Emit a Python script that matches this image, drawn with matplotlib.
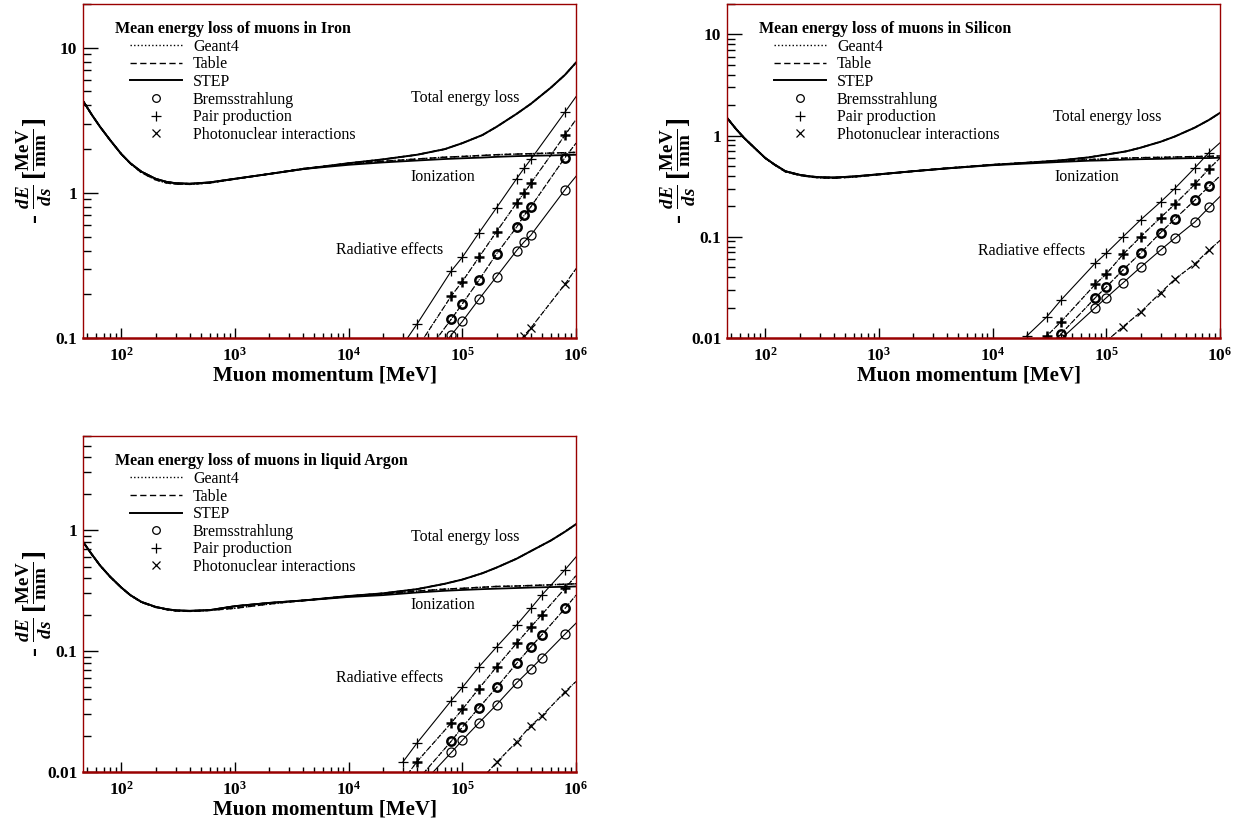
import matplotlib
matplotlib.use('Agg')
import matplotlib.pyplot as plt
from matplotlib.lines import Line2D
from matplotlib.ticker import LogLocator, NullFormatter

plt.rcParams['font.family'] = 'Liberation Serif'
plt.rcParams['mathtext.fontset'] = 'custom'
plt.rcParams['mathtext.rm'] = 'Liberation Serif:bold'
plt.rcParams['mathtext.it'] = 'Liberation Serif:italic:bold'
plt.rcParams['mathtext.bf'] = 'Liberation Serif:bold'

# momentum grid of the continuous dE/ds curves [MeV]
p_curve = [46, 55, 65, 80, 100, 120, 150, 200, 250, 300, 400, 600, 1000, 2000, 4000,
           1e4, 2e4, 4e4, 7e4, 1e5, 1.5e5, 2e5, 3e5, 4e5, 6e5, 8e5, 1e6]

# ---- Iron [MeV/mm]
iron_ion_step = [4.3, 3.45, 2.85, 2.3, 1.85, 1.6, 1.4, 1.25, 1.19, 1.165, 1.155, 1.18, 1.25, 1.35, 1.46,
                 1.56, 1.62, 1.67, 1.71, 1.73, 1.75, 1.77, 1.79, 1.8, 1.81, 1.82, 1.83]
iron_ion_table = [4.3, 3.45, 2.85, 2.3, 1.85, 1.59, 1.38, 1.23, 1.17, 1.15, 1.145, 1.17, 1.245, 1.35, 1.47,
                  1.58, 1.65, 1.71, 1.76, 1.78, 1.81, 1.83, 1.85, 1.86, 1.88, 1.89, 1.9]
iron_total = [4.3, 3.45, 2.85, 2.3, 1.85, 1.6, 1.4, 1.25, 1.19, 1.165, 1.155, 1.18, 1.25, 1.35, 1.46,
              1.6, 1.7, 1.83, 2.0, 2.2, 2.5, 2.85, 3.5, 4.1, 5.3, 6.5, 7.9]
iron_p_rad = [3e4, 4e4, 8e4, 1e5, 1.4e5, 2e5, 3e5, 3.5e5, 4e5, 8e5, 1e6]
iron_pair_step = [0.09, 0.125, 0.29, 0.36, 0.53, 0.79, 1.25, 1.48, 1.7, 3.6, 4.6]
iron_pair_table = [0.062, 0.085, 0.195, 0.245, 0.36, 0.54, 0.85, 1.0, 1.16, 2.5, 3.2]
iron_brems_table = [0.047, 0.065, 0.135, 0.172, 0.25, 0.38, 0.58, 0.7, 0.8, 1.75, 2.2]
iron_brems_step = [0.039, 0.052, 0.105, 0.13, 0.185, 0.265, 0.4, 0.46, 0.51, 1.05, 1.3]
iron_photonuclear = [0.0085, 0.0112, 0.022, 0.028, 0.04, 0.058, 0.088, 0.104, 0.117, 0.235, 0.3]

# ---- Silicon [MeV/mm]
si_ion_step = [1.5, 1.17, 0.95, 0.76, 0.6, 0.52, 0.445, 0.41, 0.395, 0.388, 0.385, 0.395, 0.415, 0.445, 0.475,
               0.51, 0.53, 0.55, 0.565, 0.57, 0.58, 0.585, 0.59, 0.595, 0.6, 0.6, 0.605]
si_ion_table = [1.5, 1.17, 0.95, 0.76, 0.6, 0.515, 0.44, 0.405, 0.39, 0.383, 0.38, 0.39, 0.412, 0.445, 0.478,
                0.515, 0.54, 0.56, 0.58, 0.59, 0.6, 0.605, 0.61, 0.615, 0.62, 0.625, 0.63]
si_total = [1.5, 1.17, 0.95, 0.76, 0.6, 0.52, 0.445, 0.41, 0.395, 0.388, 0.385, 0.395, 0.415, 0.445, 0.475,
            0.515, 0.54, 0.57, 0.61, 0.65, 0.7, 0.76, 0.87, 0.98, 1.2, 1.43, 1.68]
si_p_rad = [2e4, 3e4, 4e4, 8e4, 1e5, 1.4e5, 2e5, 3e5, 4e5, 6e5, 8e5, 1e6]
si_pair_step = [0.0105, 0.0162, 0.0238, 0.055, 0.069, 0.1, 0.147, 0.221, 0.3, 0.48, 0.68, 0.85]
si_pair_table = [0.0068, 0.0105, 0.0145, 0.034, 0.043, 0.067, 0.1, 0.155, 0.21, 0.33, 0.47, 0.6]
si_brems_table = [0.0052, 0.008, 0.011, 0.025, 0.032, 0.047, 0.069, 0.11, 0.15, 0.23, 0.315, 0.4]
si_brems_step = [0.0047, 0.0072, 0.0098, 0.02, 0.025, 0.035, 0.05, 0.074, 0.097, 0.14, 0.195, 0.25]
si_photonuclear = [0.0017, 0.0026, 0.0035, 0.0072, 0.0093, 0.0129, 0.018, 0.028, 0.038, 0.054, 0.074, 0.092]

# ---- liquid Argon [MeV/mm]
ar_ion_step = [0.8, 0.63, 0.51, 0.41, 0.335, 0.29, 0.255, 0.232, 0.222, 0.217, 0.215, 0.218, 0.235, 0.25, 0.262,
               0.28, 0.29, 0.305, 0.315, 0.32, 0.325, 0.328, 0.332, 0.335, 0.338, 0.34, 0.342]
ar_ion_table = [0.8, 0.63, 0.51, 0.41, 0.335, 0.29, 0.253, 0.23, 0.22, 0.215, 0.213, 0.217, 0.226, 0.245, 0.262,
                0.283, 0.297, 0.313, 0.325, 0.33, 0.337, 0.342, 0.345, 0.348, 0.353, 0.357, 0.36]
ar_total = [0.8, 0.63, 0.51, 0.41, 0.335, 0.29, 0.255, 0.232, 0.222, 0.217, 0.215, 0.218, 0.235, 0.25, 0.262,
            0.285, 0.3, 0.325, 0.36, 0.39, 0.44, 0.49, 0.58, 0.67, 0.82, 0.97, 1.12]
ar_p_rad = [3e4, 4e4, 8e4, 1e5, 1.4e5, 2e5, 3e5, 4e5, 5e5, 8e5, 1e6]
ar_pair_step = [0.0121, 0.0174, 0.039, 0.05, 0.074, 0.108, 0.164, 0.225, 0.29, 0.47, 0.6]
ar_pair_table = [0.0085, 0.0122, 0.0255, 0.033, 0.049, 0.074, 0.116, 0.158, 0.2, 0.33, 0.42]
ar_brems_table = [0.0062, 0.0085, 0.018, 0.0235, 0.034, 0.05, 0.079, 0.108, 0.136, 0.225, 0.29]
ar_brems_step = [0.0053, 0.0072, 0.0145, 0.0183, 0.0255, 0.036, 0.0545, 0.071, 0.088, 0.138, 0.17]
ar_photonuclear = [0.0017, 0.0023, 0.0047, 0.006, 0.0083, 0.012, 0.0177, 0.0242, 0.029, 0.046, 0.056]

x_ticks = [1e2, 1e3, 1e4, 1e5, 1e6]
x_ticklabels = [r'$10^{2}$', r'$10^{3}$', r'$10^{4}$', r'$10^{5}$', r'$10^{6}$']

DOT = (0, (1, 1.6))
DASH = (0, (4.5, 2.5))
FRAME = '#990000'
FS = 11.5

W, H = 1242, 818
fig = plt.figure(figsize=(W / 100, H / 100), dpi=100)


def frame(l, t, r, b):
    return [l / W, (H - b) / H, (r - l) / W, (b - t) / H]


def panel(rect, material, ion_step, ion_table, total, p_rad,
          pair_step, pair_table, brems_table, brems_step, photo,
          ylim, yticks, txt):
    ax = fig.add_axes(rect)
    ax.set_xscale('log')
    ax.set_yscale('log')

    # ionization and total energy loss: Geant4 / Table / STEP
    ax.plot(p_curve, ion_table, color='k', lw=1.1, ls=DOT)
    ax.plot(p_curve, ion_table, color='k', lw=1.1, ls=DASH)
    ax.plot(p_curve, ion_step, color='k', lw=1.3)
    ax.plot(p_curve, total, color='k', lw=1.1, ls=DOT)
    ax.plot(p_curve, total, color='k', lw=1.1, ls=DASH)
    ax.plot(p_curve, total, color='k', lw=1.4)

    # radiative contributions, markers at the sampled momenta
    idx = list(range(len(p_rad) - 1))
    mk = dict(color='k', lw=0.8, mfc='none', mec='k', markevery=idx)
    ax.plot(p_rad, pair_step, ls='-', marker='+', ms=7, mew=0.9, **mk)
    ax.plot(p_rad, pair_table, ls=DOT, **mk)
    ax.plot(p_rad, pair_table, ls=DASH, marker='+', ms=7, mew=1.8, **mk)
    ax.plot(p_rad, brems_table, ls=DOT, **mk)
    ax.plot(p_rad, brems_table, ls=DASH, marker='o', ms=6, mew=1.8, **mk)
    ax.plot(p_rad, brems_step, ls='-', marker='o', ms=6.5, mew=0.9, **mk)
    ax.plot(p_rad, photo, ls=DOT, **mk)
    ax.plot(p_rad, photo, ls=DASH, marker='x', ms=6, mew=0.9, **mk)

    ax.set_xticks(x_ticks, x_ticklabels, fontsize=FS + 1)
    ax.set_yticks(yticks, [f'{v:g}' for v in yticks], fontsize=FS + 1, fontweight='bold')
    ax.xaxis.set_minor_locator(LogLocator(base=10, subs=range(2, 10), numticks=20))
    ax.yaxis.set_minor_locator(LogLocator(base=10, subs=range(2, 10), numticks=20))
    ax.xaxis.set_minor_formatter(NullFormatter())
    ax.yaxis.set_minor_formatter(NullFormatter())
    ax.set_xlim(46, 1e6)
    ax.set_ylim(*ylim)

    ax.tick_params(axis='both', which='both', direction='in', top=False, right=False, width=1.0)
    ax.tick_params(axis='y', which='major', length=11, pad=4)
    ax.tick_params(axis='y', which='minor', length=6)
    ax.tick_params(axis='x', which='major', length=7, pad=6)
    ax.tick_params(axis='x', which='minor', length=3.5)
    for side in ('left', 'right', 'top'):
        ax.spines[side].set_color(FRAME)
        ax.spines[side].set_linewidth(1.0)
    ax.spines['bottom'].set_color(FRAME)
    ax.spines['bottom'].set_linewidth(1.8)

    ax.set_xlabel('Muon momentum [MeV]', fontsize=15, fontweight='bold', va='center')
    ax.xaxis.set_label_coords(0.49, -0.112)
    ax.set_ylabel(r'- $\frac{dE}{ds}\,[\frac{\mathrm{MeV}}{\mathrm{mm}}]$', fontsize=19.5,
                  fontweight='bold', va='center')
    ax.yaxis.set_label_coords(-0.098, 0.5)

    ax.text(*txt[0], 'Total energy loss', fontsize=FS, va='center')
    ax.text(*txt[1], 'Ionization', fontsize=FS, va='center')
    ax.text(*txt[2], 'Radiative effects', fontsize=FS, va='center')

    handles = [
        Line2D([], [], color='k', lw=1.0, ls=DOT),
        Line2D([], [], color='k', lw=1.0, ls=DASH),
        Line2D([], [], color='k', lw=1.4),
        Line2D([], [], ls='none', marker='o', ms=5.5, mfc='none', mec='k', mew=0.9),
        Line2D([], [], ls='none', marker='+', ms=6.5, mec='k', mew=0.9),
        Line2D([], [], ls='none', marker='x', ms=5.5, mec='k', mew=0.9),
    ]
    labels = ['Geant4', 'Table', 'STEP', 'Bremsstrahlung', 'Pair production',
              'Photonuclear interactions']
    ax.legend(handles, labels, loc='upper left', bbox_to_anchor=(0.095, 0.896),
              frameon=False, fontsize=FS, handlelength=3.25, handletextpad=0.7,
              labelspacing=0.1, borderpad=0, borderaxespad=0)
    ax.text(0.065, 0.925, f'Mean energy loss of muons in {material}', transform=ax.transAxes,
            fontsize=FS, fontweight='bold', va='center')
    return ax


panel(frame(83, 4, 576, 338), 'Iron', iron_ion_step, iron_ion_table, iron_total, iron_p_rad,
      iron_pair_step, iron_pair_table, iron_brems_table, iron_brems_step, iron_photonuclear,
      (0.1, 20), [0.1, 1, 10], [(3.5e4, 4.5), (3.5e4, 1.29), (7.7e3, 0.405)])

panel(frame(727, 4, 1220, 338), 'Silicon', si_ion_step, si_ion_table, si_total, si_p_rad,
      si_pair_step, si_pair_table, si_brems_table, si_brems_step, si_photonuclear,
      (0.01, 20), [0.01, 0.1, 1, 10], [(3.4e4, 1.53), (3.5e4, 0.39), (7.5e3, 0.072)])

panel(frame(83, 436, 576, 772), 'liquid Argon', ar_ion_step, ar_ion_table, ar_total, ar_p_rad,
      ar_pair_step, ar_pair_table, ar_brems_table, ar_brems_step, ar_photonuclear,
      (0.01, 6), [0.01, 0.1, 1], [(3.5e4, 0.877), (3.5e4, 0.24), (7.7e3, 0.06)])

fig.savefig('out.png', dpi=100, facecolor='white')
